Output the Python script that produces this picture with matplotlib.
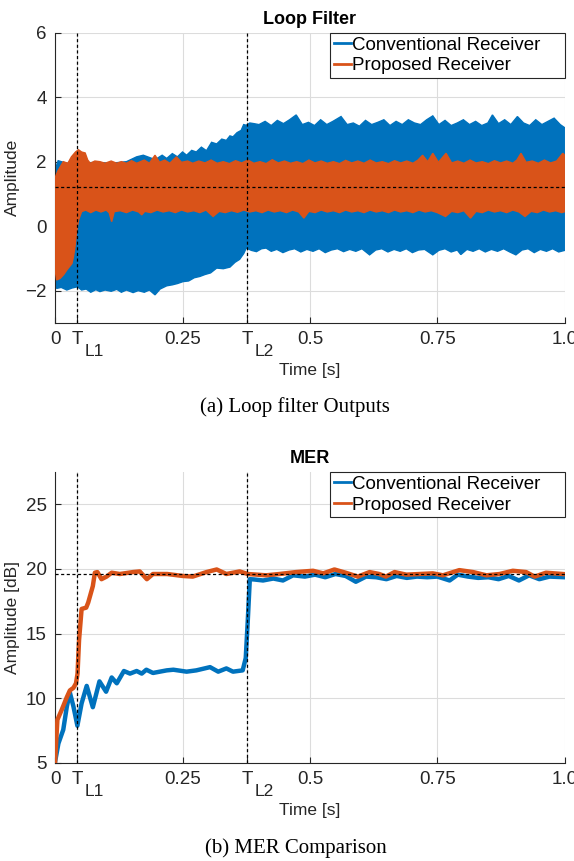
import numpy as np
import matplotlib
matplotlib.use("Agg")
import matplotlib.pyplot as plt
from matplotlib.lines import Line2D

plt.rcParams['font.family'] = ['Liberation Sans', 'DejaVu Sans']

BLUE = '#0072BD'
ORANGE = '#D95319'
T_L1 = 0.0437
T_L2 = 0.377

# ---- Loop filter band edges ----
conv_hi_t = [0, 0.006, 0.023, 0.05, 0.08, 0.11, 0.14, 0.16, 0.173, 0.19, 0.2, 0.21,
             0.219, 0.23, 0.24, 0.25, 0.258, 0.268, 0.277, 0.287, 0.297, 0.307, 0.317,
             0.327, 0.336, 0.343, 0.349, 0.357, 0.365, 0.37, 0.375, 0.382, 0.39,
             0.400, 0.412, 0.424, 0.436, 0.448, 0.46, 0.473, 0.485, 0.497, 0.509, 0.521,
             0.533, 0.545, 0.561, 0.573, 0.585, 0.597, 0.609, 0.621, 0.633, 0.645, 0.657,
             0.669, 0.681, 0.693, 0.705, 0.717, 0.729, 0.741, 0.753, 0.765, 0.777, 0.789,
             0.801, 0.813, 0.825, 0.837, 0.849, 0.858, 0.870, 0.882, 0.894, 0.907, 0.919,
             0.931, 0.943, 0.955, 0.967, 0.979, 0.991, 1.0]
conv_hi = [1.75, 2.03, 1.95, 1.95, 1.98, 1.95, 2.0, 2.15, 2.2, 2.1, 2.1, 2.2,
           2.1, 2.25, 2.15, 2.3, 2.2, 2.35, 2.3, 2.45, 2.34, 2.6, 2.55,
           2.7, 2.66, 2.8, 2.77, 2.9, 2.97, 3.15, 3.13, 3.2, 3.18,
           3.15, 3.25, 3.12, 3.28, 3.18, 3.3, 3.45, 3.15, 3.22, 3.12, 3.3,
           3.15, 3.25, 3.4, 3.15, 3.2, 3.1, 3.28, 3.15, 3.22, 3.3, 3.12,
           3.25, 3.15, 3.3, 3.2, 3.15, 3.3, 3.42, 3.15, 3.28, 3.12, 3.2,
           3.3, 3.15, 3.25, 3.12, 3.2, 3.45, 3.18, 3.3, 3.15, 3.4, 3.2,
           3.12, 3.3, 3.15, 3.25, 3.35, 3.15, 3.05]
conv_lo_t = [0, 0.003, 0.012, 0.023, 0.033, 0.044, 0.052, 0.061, 0.07, 0.08, 0.088, 0.098,
             0.11, 0.121, 0.13, 0.14, 0.153, 0.163, 0.175, 0.185, 0.196, 0.206, 0.219,
             0.23, 0.24, 0.251, 0.262, 0.273, 0.284, 0.294, 0.305, 0.317, 0.33, 0.343,
             0.353, 0.362, 0.37, 0.375, 0.385, 0.395, 0.405, 0.414, 0.424, 0.435, 0.447,
             0.459, 0.47, 0.482, 0.494, 0.506, 0.518, 0.53, 0.542, 0.554, 0.566, 0.578,
             0.59, 0.602, 0.617, 0.629, 0.641, 0.653, 0.665, 0.677, 0.689, 0.701, 0.713,
             0.725, 0.741, 0.753, 0.765, 0.777, 0.789, 0.796, 0.808, 0.82, 0.832, 0.844,
             0.856, 0.868, 0.88, 0.892, 0.904, 0.916, 0.928, 0.94, 0.952, 0.964, 0.976,
             0.988, 1.0]
conv_lo = [-1.67, -1.93, -1.9, -1.98, -1.92, -1.88, -1.98, -1.95, -2.05, -1.97, -2.03, -1.98,
           -2.02, -1.96, -2.05, -1.98, -2.06, -2.0, -2.05, -1.98, -2.13, -1.95, -1.85,
           -1.82, -1.78, -1.72, -1.7, -1.6, -1.56, -1.5, -1.45, -1.3, -1.32, -1.27,
           -1.12, -1.03, -0.85, -0.68, -0.75, -0.79, -0.7, -0.68, -0.78, -0.72, -0.82,
           -0.74, -0.7, -0.8, -0.72, -0.78, -0.7, -0.82, -0.74, -0.7, -0.79, -0.72,
           -0.78, -0.7, -0.89, -0.74, -0.7, -0.8, -0.72, -0.78, -0.7, -0.82, -0.74,
           -0.72, -0.89, -0.75, -0.7, -0.8, -0.74, -0.88, -0.72, -0.78, -0.7, -0.8,
           -0.72, -0.78, -0.7, -0.8, -0.89, -0.74, -0.7, -0.82, -0.72, -0.78, -0.7,
           -0.8, -0.75]
prop_hi_t = [0, 0.005, 0.016, 0.025, 0.032, 0.04, 0.046, 0.052, 0.059, 0.064, 0.069, 0.078,
             0.088, 0.098, 0.11, 0.121, 0.13, 0.14, 0.15, 0.16, 0.175, 0.185, 0.196, 0.205,
             0.215, 0.225, 0.238, 0.248, 0.26, 0.27, 0.282, 0.294, 0.306, 0.318, 0.33,
             0.342, 0.354, 0.366, 0.378, 0.39, 0.402, 0.414, 0.426, 0.438, 0.45, 0.462,
             0.474, 0.486, 0.498, 0.51, 0.522, 0.534, 0.546, 0.558, 0.57, 0.582, 0.594,
             0.606, 0.618, 0.63, 0.642, 0.654, 0.666, 0.678, 0.69, 0.702, 0.712, 0.721,
             0.731, 0.741, 0.752, 0.767, 0.778, 0.79, 0.802, 0.814, 0.826, 0.838, 0.85,
             0.862, 0.874, 0.886, 0.898, 0.906, 0.914, 0.924, 0.936, 0.948, 0.96, 0.972,
             0.984, 0.996, 1.0]
prop_hi = [1.5, 1.7, 2.0, 1.95, 2.15, 2.3, 2.37, 2.3, 2.27, 2.05, 1.95, 2.02,
           2.0, 1.95, 2.02, 1.95, 2.0, 1.95, 2.03, 1.95, 2.05, 1.95, 2.2, 1.98,
           2.05, 1.95, 2.15, 1.98, 2.02, 1.95, 2.02, 1.96, 2.05, 1.95, 2.0,
           1.94, 2.03, 1.96, 2.05, 1.95, 2.0, 1.94, 2.06, 1.96, 2.02, 1.95,
           2.0, 1.94, 2.05, 1.96, 2.02, 1.95, 2.0, 1.94, 2.04, 1.96, 2.02,
           1.95, 2.05, 1.96, 2.0, 1.94, 2.03, 1.96, 2.02, 1.95, 2.05, 2.2,
           2.0, 2.26, 1.98, 2.26, 1.96, 2.02, 1.95, 2.05, 1.96, 2.0, 1.94,
           2.03, 1.96, 2.02, 1.95, 2.05, 2.26, 1.98, 2.02, 1.95, 2.05, 1.96,
           2.02, 2.26, 2.2]
prop_lo_t = [0, 0.003, 0.01, 0.017, 0.023, 0.033, 0.036, 0.039, 0.042, 0.046, 0.052, 0.06,
             0.07, 0.08, 0.09, 0.1, 0.106, 0.111, 0.116, 0.128, 0.14, 0.152, 0.164, 0.17,
             0.176, 0.188, 0.2, 0.212, 0.224, 0.236, 0.248, 0.26, 0.272, 0.284, 0.296,
             0.31, 0.322, 0.334, 0.346, 0.358, 0.37, 0.382, 0.394, 0.406, 0.418, 0.43,
             0.442, 0.454, 0.466, 0.478, 0.488, 0.498, 0.51, 0.522, 0.534, 0.546, 0.558,
             0.57, 0.582, 0.594, 0.606, 0.618, 0.63, 0.642, 0.654, 0.666, 0.678, 0.69,
             0.702, 0.714, 0.726, 0.738, 0.75, 0.766, 0.778, 0.79, 0.802, 0.815, 0.826,
             0.838, 0.85, 0.862, 0.874, 0.886, 0.898, 0.91, 0.922, 0.934, 0.946, 0.958,
             0.97, 0.982, 0.994, 1.0]
prop_lo = [-1.36, -1.67, -1.62, -1.5, -1.36, -1.16, -0.95, -0.64, -0.2, 0.19, 0.45, 0.5,
           0.42, 0.5, 0.44, 0.5, 0.42, 0.14, 0.45, 0.48, 0.42, 0.5, 0.44, 0.35,
           0.46, 0.42, 0.5, 0.44, 0.48, 0.42, 0.5, 0.44, 0.48, 0.42, 0.5,
           0.3, 0.46, 0.42, 0.48, 0.43, 0.5, 0.44, 0.48, 0.42, 0.5, 0.44,
           0.48, 0.42, 0.5, 0.44, 0.25, 0.46, 0.42, 0.5, 0.44, 0.48, 0.42,
           0.5, 0.44, 0.48, 0.42, 0.5, 0.44, 0.48, 0.42, 0.5, 0.44, 0.48,
           0.42, 0.5, 0.44, 0.48, 0.42, 0.3, 0.46, 0.42, 0.48, 0.25, 0.46,
           0.42, 0.5, 0.44, 0.48, 0.42, 0.5, 0.44, 0.3, 0.46, 0.42, 0.5,
           0.44, 0.48, 0.42, 0.45]
loop_ref = 1.22

# ---- MER curves ----
mer_conv_t = [0, 0.0065, 0.016, 0.023, 0.029, 0.036, 0.0437, 0.052, 0.062, 0.074, 0.087,
              0.1, 0.111, 0.121, 0.135, 0.147, 0.16, 0.17, 0.179, 0.192, 0.219, 0.232,
              0.258, 0.277, 0.304, 0.32, 0.336, 0.349, 0.368, 0.374, 0.378, 0.382, 0.39,
              0.408, 0.428, 0.447, 0.467, 0.49, 0.51, 0.53, 0.55, 0.57, 0.59, 0.61, 0.63,
              0.65, 0.67, 0.69, 0.71, 0.73, 0.75, 0.774, 0.79, 0.81, 0.83, 0.85, 0.87,
              0.89, 0.91, 0.93, 0.95, 0.97, 1.0]
mer_conv = [5.1, 6.5, 7.56, 9.35, 10.43, 9.35, 7.87, 9.6, 10.95, 9.3, 11.3,
            10.5, 11.6, 11.15, 12.1, 11.9, 12.1, 11.9, 12.2, 11.95, 12.15, 12.2,
            12.05, 12.15, 12.4, 12.05, 12.3, 12.05, 12.15, 13.1, 16.0, 19.2, 19.18,
            19.1, 19.25, 19.1, 19.5, 19.4, 19.55, 19.35, 19.6, 19.45, 19.0, 19.4, 19.35,
            19.2, 19.45, 19.3, 19.4, 19.35, 19.4, 19.1, 19.55, 19.4, 19.3, 19.35, 19.2,
            19.45, 19.1, 19.5, 19.2, 19.4, 19.35]
mer_prop_t = [0, 0.0045, 0.013, 0.023, 0.029, 0.036, 0.041, 0.044, 0.047, 0.052, 0.061,
              0.065, 0.074, 0.078, 0.083, 0.091, 0.101, 0.111, 0.127, 0.153, 0.166, 0.18,
              0.192, 0.22, 0.25, 0.27, 0.297, 0.317, 0.336, 0.362, 0.378, 0.414, 0.44,
              0.473, 0.506, 0.526, 0.548, 0.57, 0.594, 0.617, 0.636, 0.649, 0.666, 0.689,
              0.715, 0.741, 0.761, 0.793, 0.82, 0.846, 0.872, 0.898, 0.924, 0.941, 0.963,
              0.996]
mer_prop = [5.1, 8.33, 9.1, 10.08, 10.6, 10.8, 11.15, 11.9, 14.5, 16.9, 17.0,
            17.4, 18.66, 19.7, 19.75, 19.2, 19.4, 19.7, 19.6, 19.75, 19.8, 19.2,
            19.6, 19.6, 19.45, 19.4, 19.75, 19.95, 19.6, 19.8, 19.6, 19.5, 19.6,
            19.75, 19.85, 19.65, 19.95, 19.7, 19.4, 19.75, 19.6, 19.4, 19.75, 19.55,
            19.6, 19.65, 19.5, 19.9, 19.75, 19.5, 19.6, 19.85, 19.75, 19.4, 19.7,
            19.6]
mer_ref = 19.6

xtick_pos = [0, T_L1, 0.25, T_L2, 0.5, 0.75, 1.0]
xtick_lbl = ['0', 'T', '0.25', 'T', '0.5', '0.75', '1.0']
legend_lbl = ['Conventional Receiver    ', 'Proposed Receiver']


def style_axes(ax, title, ylabel, yticks, ylim):
    ax.set_xlim(0, 1)
    ax.set_ylim(*ylim)
    ax.set_xticks(xtick_pos)
    ax.set_xticklabels(xtick_lbl)
    ax.set_yticks(yticks)
    ax.tick_params(direction='in', length=4, colors='#262626', labelsize=13.5, pad=6)
    for s in ['top', 'right']:
        ax.spines[s].set_visible(False)
    for s in ['left', 'bottom']:
        ax.spines[s].set_color('#262626')
        ax.spines[s].set_linewidth(0.8)
    ax.grid(True, color='#dcdcdc', linewidth=0.8)
    ax.set_axisbelow(True)
    ax.set_title(title, fontsize=13, fontweight='bold', pad=6)
    ax.set_ylabel(ylabel, fontsize=12.5, color='#262626', labelpad=4)
    ax.set_xlabel('Time [s]', fontsize=12.5, color='#262626', labelpad=11)
    for tl, sub in [(T_L1, 'L1'), (T_L2, 'L2')]:
        ax.axvline(tl, color='black', linestyle=(0, (2.5, 2)), linewidth=0.9, zorder=5)
        ax.annotate(sub, xy=(tl, 0), xycoords=('data', 'axes fraction'),
                    xytext=(5, -15), textcoords='offset points', ha='left', va='top',
                    fontsize=12.5, color='#262626')
    handles = [Line2D([], [], color=BLUE, lw=2), Line2D([], [], color=ORANGE, lw=2)]
    leg = ax.legend(handles, legend_lbl, loc='upper right', borderaxespad=0,
                    fontsize=13.5, handlelength=0.9, handletextpad=0.05,
                    labelspacing=0.2, borderpad=0.2, fancybox=False, framealpha=1)
    leg.get_frame().set_edgecolor('#262626')
    leg.get_frame().set_linewidth(0.8)


fig = plt.figure(figsize=(5.74, 8.61), dpi=100)

ax1 = fig.add_axes([0.096, 0.625, 0.888, 0.337])
ax1.fill(np.r_[conv_hi_t, conv_lo_t[::-1]], np.r_[conv_hi, conv_lo[::-1]],
         color=BLUE, linewidth=1.0, edgecolor=BLUE, zorder=2)
ax1.fill(np.r_[prop_hi_t, prop_lo_t[::-1]], np.r_[prop_hi, prop_lo[::-1]],
         color=ORANGE, linewidth=1.0, edgecolor=ORANGE, zorder=3)
ax1.axhline(loop_ref, color='black', linestyle=(0, (2.5, 2)), linewidth=0.9, zorder=5)
style_axes(ax1, 'Loop Filter', 'Amplitude', [-2, 0, 2, 4, 6], (-3, 6))

ax2 = fig.add_axes([0.096, 0.114, 0.888, 0.338])
ax2.plot(mer_conv_t, mer_conv, color=BLUE, linewidth=3.2, zorder=3)
ax2.plot(mer_prop_t, mer_prop, color=ORANGE, linewidth=3.2, zorder=4)
ax2.axhline(mer_ref, color='black', linestyle=(0, (2.5, 2)), linewidth=0.9, zorder=5)
style_axes(ax2, 'MER', 'Amplitude [dB]', [5, 10, 15, 20, 25], (5, 27.5))

fig.text(0.513, 1 - 407 / 861, '(a) Loop filter Outputs', ha='center', va='center',
         fontsize=15, family='Liberation Serif')
fig.text(0.516, 1 - 848 / 861, '(b) MER Comparison', ha='center', va='center',
         fontsize=15, family='Liberation Serif')

fig.savefig('out.png', dpi=100)
